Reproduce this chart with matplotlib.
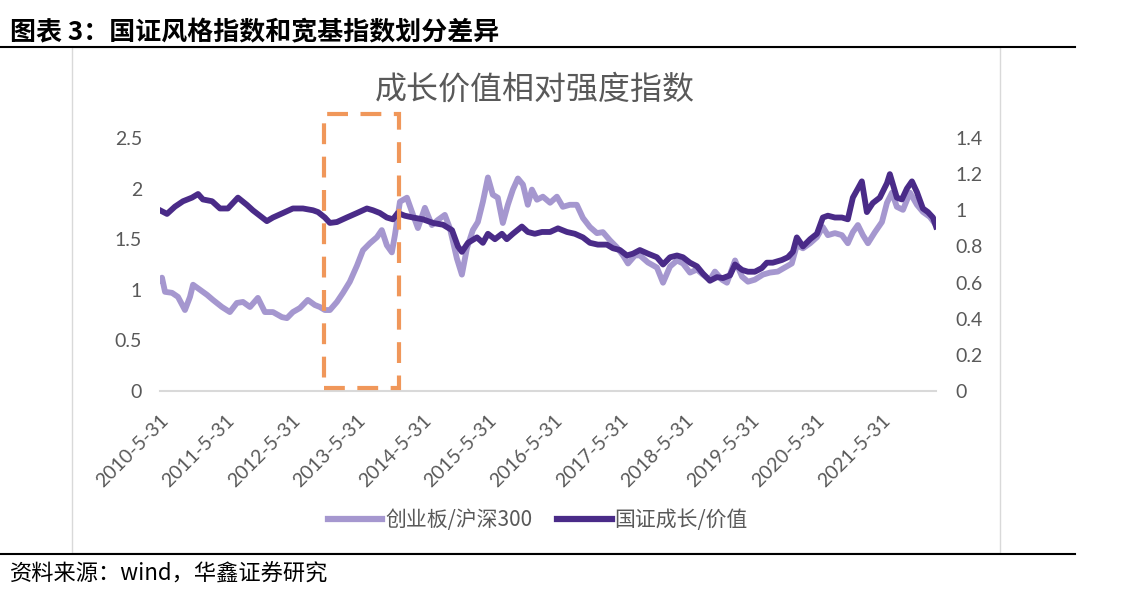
import matplotlib
matplotlib.use("Agg")
import matplotlib.pyplot as plt
from matplotlib.patches import Rectangle
from matplotlib.lines import Line2D
import pandas as pd

plt.rcParams['font.family'] = ['Lato', 'Noto Sans CJK SC', 'DejaVu Sans']

# 创业板/沪深300 (left axis)
cyb_dates = ["2010-05-31", "2010-06-11", "2010-06-28", "2010-08-06", "2010-09-08", "2010-10-17",
             "2010-11-14", "2010-12-01", "2011-01-09", "2011-02-17", "2011-03-22", "2011-05-11",
             "2011-06-24", "2011-08-02", "2011-09-05", "2011-10-14", "2011-11-27", "2012-01-05",
             "2012-02-19", "2012-04-09", "2012-05-07", "2012-06-09", "2012-07-18", "2012-08-31",
             "2012-10-09", "2012-11-06", "2012-12-04", "2013-01-01", "2013-02-09", "2013-03-15",
             "2013-04-22", "2013-06-01", "2013-07-04", "2013-08-12", "2013-09-20", "2013-10-17",
             "2013-11-14", "2013-12-12", "2013-12-29", "2014-01-26", "2014-03-06", "2014-04-03",
             "2014-05-06", "2014-06-14", "2014-07-23", "2014-08-25", "2014-10-03", "2014-10-31",
             "2014-12-09", "2015-01-06", "2015-02-03", "2015-03-08", "2015-04-05", "2015-05-03",
             "2015-05-31", "2015-06-27", "2015-07-25", "2015-08-22", "2015-09-19", "2015-10-17",
             "2015-11-14", "2015-12-12", "2016-01-08", "2016-01-31", "2016-02-28", "2016-04-01",
             "2016-05-11", "2016-06-18", "2016-07-21", "2016-08-29", "2016-10-07", "2016-11-10",
             "2016-12-19", "2017-01-27", "2017-03-01", "2017-04-09", "2017-05-18", "2017-06-21",
             "2017-07-19", "2017-08-27", "2017-09-23", "2017-11-07", "2017-12-27", "2018-01-30",
             "2018-03-10", "2018-04-18", "2018-05-21", "2018-06-29", "2018-08-07", "2018-09-09",
             "2018-10-18", "2018-11-15", "2018-12-24", "2019-01-21", "2019-03-07", "2019-04-15",
             "2019-05-18", "2019-06-25", "2019-08-09", "2019-09-17", "2019-10-31", "2019-12-09",
             "2020-01-17", "2020-02-14", "2020-03-19", "2020-04-28", "2020-06-05", "2020-07-08",
             "2020-08-05", "2020-09-13", "2020-10-22", "2020-11-24", "2020-12-22", "2021-01-19",
             "2021-02-16", "2021-03-16", "2021-04-24", "2021-06-02", "2021-06-30", "2021-07-28",
             "2021-08-24", "2021-09-27", "2021-11-05", "2021-12-14", "2022-01-16", "2022-02-24",
             "2022-03-30"]
cyb_vals = [1.10, 1.12, 0.98, 0.97, 0.93, 0.80, 0.93, 1.05, 1.00, 0.95, 0.90, 0.83,
            0.78, 0.87, 0.88, 0.83, 0.92, 0.78, 0.78, 0.73, 0.72, 0.78, 0.82, 0.90,
            0.85, 0.83, 0.80, 0.80, 0.88, 0.97, 1.08, 1.24, 1.39, 1.46, 1.52, 1.59,
            1.44, 1.37, 1.54, 1.87, 1.91, 1.77, 1.61, 1.81, 1.64, 1.69, 1.74, 1.61,
            1.31, 1.15, 1.41, 1.59, 1.67, 1.87, 2.11, 1.94, 1.91, 1.66, 1.84, 1.99,
            2.10, 2.04, 1.84, 1.99, 1.89, 1.92, 1.86, 1.92, 1.82, 1.84, 1.84, 1.71,
            1.62, 1.56, 1.57, 1.49, 1.42, 1.34, 1.26, 1.34, 1.34, 1.27, 1.22, 1.07,
            1.23, 1.29, 1.26, 1.17, 1.20, 1.15, 1.10, 1.18, 1.10, 1.07, 1.29, 1.13,
            1.08, 1.10, 1.15, 1.17, 1.18, 1.22, 1.26, 1.44, 1.41, 1.46, 1.52, 1.62,
            1.54, 1.56, 1.54, 1.46, 1.57, 1.64, 1.54, 1.46, 1.57, 1.67, 1.86, 1.96,
            1.82, 1.79, 1.96, 1.84, 1.77, 1.72, 1.64]

# 国证成长/价值 (right axis)
gz_dates = ["2010-05-31", "2010-07-09", "2010-08-22", "2010-10-06", "2010-11-25", "2010-12-29",
            "2011-01-25", "2011-03-17", "2011-04-30", "2011-06-13", "2011-08-08", "2011-09-27",
            "2011-10-30", "2011-12-08", "2012-01-16", "2012-02-19", "2012-04-15", "2012-06-09",
            "2012-08-04", "2012-09-29", "2012-10-27", "2012-12-04", "2013-01-01", "2013-02-09",
            "2013-04-05", "2013-06-01", "2013-07-26", "2013-08-29", "2013-10-06", "2013-11-14",
            "2013-12-18", "2014-01-14", "2014-02-22", "2014-04-08", "2014-06-03", "2014-07-29",
            "2014-09-23", "2014-11-12", "2014-12-15", "2015-01-06", "2015-02-09", "2015-03-31",
            "2015-05-03", "2015-05-31", "2015-07-09", "2015-08-17", "2015-09-13", "2015-10-17",
            "2015-12-06", "2016-01-08", "2016-02-16", "2016-03-27", "2016-05-11", "2016-06-24",
            "2016-08-13", "2016-09-26", "2016-11-10", "2016-12-19", "2017-02-01", "2017-03-23",
            "2017-04-26", "2017-06-04", "2017-07-13", "2017-08-16", "2017-09-23", "2017-11-07",
            "2017-12-27", "2018-01-30", "2018-03-10", "2018-04-18", "2018-05-21", "2018-06-29",
            "2018-08-07", "2018-09-09", "2018-10-18", "2018-11-26", "2018-12-30", "2019-02-07",
            "2019-03-07", "2019-04-15", "2019-05-18", "2019-06-25", "2019-08-03", "2019-08-31",
            "2019-10-03", "2019-11-23", "2019-12-26", "2020-01-23", "2020-02-14", "2020-03-19",
            "2020-04-28", "2020-06-05", "2020-07-08", "2020-08-05", "2020-09-13", "2020-10-22",
            "2020-11-24", "2020-12-22", "2021-01-19", "2021-02-10", "2021-03-10", "2021-04-12",
            "2021-05-21", "2021-06-30", "2021-07-16", "2021-08-24", "2021-09-21", "2021-10-19",
            "2021-11-16", "2021-12-14", "2022-01-16", "2022-02-13", "2022-03-13", "2022-03-30"]
gz_vals = [1.00, 0.98, 1.02, 1.05, 1.07, 1.09, 1.06, 1.05, 1.01, 1.01, 1.07, 1.03,
           1.00, 0.97, 0.94, 0.96, 0.985, 1.01, 1.01, 1.00, 0.99, 0.96, 0.93, 0.935,
           0.96, 0.985, 1.01, 1.00, 0.985, 0.96, 0.95, 0.985, 0.97, 0.96, 0.95, 0.93,
           0.92, 0.89, 0.80, 0.77, 0.82, 0.85, 0.82, 0.87, 0.84, 0.87, 0.84, 0.87,
           0.91, 0.88, 0.87, 0.88, 0.88, 0.90, 0.88, 0.87, 0.85, 0.82, 0.81, 0.81,
           0.79, 0.78, 0.75, 0.76, 0.78, 0.76, 0.74, 0.70, 0.74, 0.75, 0.74, 0.71,
           0.69, 0.65, 0.61, 0.63, 0.625, 0.64, 0.70, 0.67, 0.66, 0.66, 0.68, 0.71,
           0.71, 0.725, 0.74, 0.77, 0.85, 0.80, 0.84, 0.87, 0.96, 0.97, 0.96, 0.96,
           0.95, 1.07, 1.12, 1.16, 0.99, 1.04, 1.07, 1.15, 1.20, 1.07, 1.06, 1.12,
           1.16, 1.10, 1.01, 0.99, 0.96, 0.91]

tick_years = list(range(2010, 2022))
tick_dates = pd.to_datetime([f"{y}-05-31" for y in tick_years])
tick_labels = [f"{y}-5-31" for y in tick_years]
left_ticks = [0, 0.5, 1, 1.5, 2, 2.5]
left_labels = ["0", "0.5", "1", "1.5", "2", "2.5"]
right_ticks = [0, 0.2, 0.4, 0.6, 0.8, 1.0, 1.2, 1.4]
right_labels = ["0", "0.2", "0.4", "0.6", "0.8", "1", "1.2", "1.4"]

# highlighted window (orange dashed box)
box_start, box_end = "2012-11-29", "2014-01-21"
box_low, box_high = 0.03, 2.74

light = "#a597cf"
dark = "#4a2b88"
grey = "#595959"

W, H = 1125, 602
fig = plt.figure(figsize=(W / 100, H / 100), dpi=100)
fig.patch.set_facecolor("white")

ax = fig.add_axes([160 / W, 1 - 391 / H, (936 - 160) / W, (391 - 138) / H])
ax2 = ax.twinx()

ax.plot(pd.to_datetime(cyb_dates), cyb_vals, color=light, lw=4.2,
        solid_joinstyle="round", label="创业板/沪深300")
ax2.plot(pd.to_datetime(gz_dates), gz_vals, color=dark, lw=4.2,
         solid_joinstyle="round", label="国证成长/价值")

ax.set_xlim(pd.Timestamp(cyb_dates[0]), pd.Timestamp(cyb_dates[-1]))
ax.set_ylim(0, 2.5)
ax2.set_ylim(0, 1.4)

ax.set_yticks(left_ticks)
ax.set_yticklabels(left_labels)
ax2.set_yticks(right_ticks)
ax2.set_yticklabels(right_labels)
ax.set_xticks(tick_dates)
ax.set_xticklabels(tick_labels, rotation=45, ha="right", va="top", rotation_mode="anchor")

for a in (ax, ax2):
    for s in a.spines.values():
        s.set_visible(False)
    a.tick_params(length=0, colors=grey, labelsize=14)
ax.tick_params(axis="y", pad=13)
ax2.tick_params(axis="y", pad=14)
ax.tick_params(axis="x", pad=15)
ax.spines["bottom"].set_visible(True)
ax.spines["bottom"].set_color("#d9d9d9")
ax.spines["bottom"].set_linewidth(1.5)

box = Rectangle((pd.Timestamp(box_start), box_low),
                pd.Timestamp(box_end) - pd.Timestamp(box_start), box_high - box_low,
                transform=ax.transData, fill=False, edgecolor="#f0975a", lw=3,
                linestyle=(0, (5, 3)), clip_on=False, zorder=10)
ax2.add_patch(box)

# chart title and legend
fig.text(535 / W, 1 - 90 / H, "成长价值相对强度指数", ha="center", va="center",
         fontsize=23, fontweight="light", color=grey, family=["Noto Sans CJK SC"])
handles = [Line2D([], [], color=light, lw=4.5), Line2D([], [], color=dark, lw=4.5)]
fig.legend(handles, ["创业板/沪深300", "国证成长/价值"], loc="center",
           bbox_to_anchor=(538 / W, 1 - 520 / H), ncol=2, frameon=False,
           labelcolor=grey, handlelength=2.6, handletextpad=0.15,
           columnspacing=1.2, prop={"family": ["Noto Sans CJK SC"], "size": 15})

# outer frame, header and source
fig.add_artist(Rectangle((72 / W, 1 - 553 / H), (1000 - 72) / W, (553 - 47) / H,
                         transform=fig.transFigure, fill=False, edgecolor="#d9d9d9", lw=1))
fig.add_artist(Line2D([0, 1075 / W], [1 - 47 / H] * 2, transform=fig.transFigure,
                      color="black", lw=1.5))
fig.add_artist(Line2D([0, 1075 / W], [1 - 554 / H] * 2, transform=fig.transFigure,
                      color="black", lw=1.5, zorder=5))
fig.text(10 / W, 1 - 33 / H, "图表 3：国证风格指数和宽基指数划分差异", ha="left", va="center",
         fontsize=18.7, fontweight="bold", color="black", family=["Noto Sans CJK SC"])
fig.text(10 / W, 1 - 574 / H, "资料来源：wind，华鑫证券研究", ha="left", va="center",
         fontsize=16, color="black", family=["Noto Sans CJK SC"])

fig.savefig("out.png", dpi=100, facecolor="white")
